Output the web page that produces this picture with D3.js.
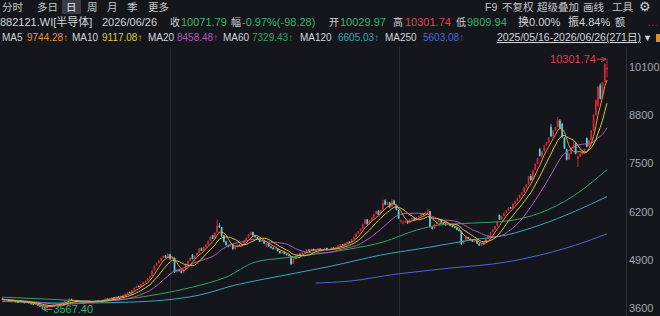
<!DOCTYPE html>
<meta charset="utf-8">
<head>
<script src="https://d3js.org/d3.v7.min.js"></script>
<style>
  body { margin: 0; background: #14161c; }
  svg text { font-family: "Liberation Sans", "Noto Sans CJK SC", sans-serif; }
</style>
</head>
<body>
<svg id="chart"></svg>
<script>
// daily candles 2025/05/16 - 2026/06/26 (271 days)
var opens = [
  3830,3850,3812,3838,3805,3788,3815,3772,3755,3784,
  3760,3745,3770,3732,3712,3690,3715,3670,3648,3625,
  3620,3648,3675,3662,3700,3720,3708,3745,3770,3792,
  3815,3850,3818,3796,3772,3792,3760,3750,3774,3798,
  3778,3770,3795,3812,3784,3808,3835,3860,3842,3875,
  3898,3882,3915,3906,3940,3965,3994,4035,4015,4090,
  4155,4200,4175,4245,4302,4340,4408,4475,4620,4750,
  4820,4885,4960,5015,4972,5050,4925,4960,4575,4640,
  4610,4565,4655,4795,4875,5040,4930,5015,5090,5210,
  5155,5255,5318,5410,5560,5480,5640,5830,5780,5560,
  5395,5300,5270,5330,5195,5255,5305,5288,5335,5425,
  5500,5585,5650,5562,5520,5468,5398,5418,5280,5350,
  5262,5228,5190,5212,5138,5082,5122,5062,5030,5005,
  4800,4925,5012,5068,5042,5100,5132,5178,5162,5198,
  5150,5182,5208,5152,5175,5222,5168,5192,5235,5212,
  5250,5288,5325,5300,5358,5392,5375,5458,5525,5615,
  5672,5745,5870,5990,5862,5960,6045,6135,6225,6125,
  6260,6500,6385,6440,6330,6500,6380,6230,5930,5880,
  5910,5948,5895,5990,6022,5980,6055,6085,6138,6112,
  6175,6210,5785,5745,5865,5928,5975,5912,5882,5838,
  5862,5822,5792,5762,5712,5675,5335,5425,5512,5472,
  5442,5398,5422,5342,5288,5308,5385,5475,5565,5655,
  5725,5815,6110,5990,6085,6165,6235,6315,6295,6415,
  6485,6565,6655,6725,6855,6935,7160,7055,7325,7485,
  7880,7690,7825,7985,8065,8480,8235,8395,8475,8650,
  8560,8195,7880,7605,7755,7905,8030,7620,7685,7755,
  7805,8180,7955,8125,8385,8805,9050,9600,9250,9690,10029.97
];
var highs = [
  3868,3858,3846,3842,3815,3825,3820,3785,3792,3790,
  3770,3781,3775,3740,3720,3726,3718,3680,3655,3640,
  3655,3680,3684,3705,3730,3728,3750,3776,3798,3820,
  3872,3858,3826,3802,3798,3795,3768,3778,3802,3805,
  3784,3798,3818,3815,3812,3840,3866,3864,3880,3902,
  3905,3920,3922,3945,3972,3998,4042,4048,4095,4165,
  4210,4215,4252,4310,4350,4415,4480,4625,4760,4830,
  4895,4968,5030,5040,5080,5065,4990,4972,4660,4652,
  4620,4660,4805,4885,4972,5060,5022,5098,5225,5232,
  5268,5325,5420,5535,5575,5648,5990,5890,5790,5575,
  5420,5320,5350,5340,5262,5315,5318,5345,5432,5510,
  5598,5670,5662,5580,5530,5480,5440,5425,5360,5358,
  5275,5240,5225,5218,5145,5132,5128,5070,5048,5012,
  4935,5022,5080,5075,5110,5142,5188,5190,5208,5205,
  5192,5218,5212,5182,5232,5228,5200,5245,5240,5260,
  5298,5335,5330,5368,5402,5398,5468,5532,5622,5680,
  5752,5878,5998,6005,5968,6052,6145,6228,6240,6252,
  6520,6530,6470,6460,6545,6520,6395,6245,5990,5970,
  5975,5955,5998,6035,6030,6062,6095,6150,6145,6195,
  6285,6220,5798,5875,5938,5995,5985,5920,5890,5872,
  5870,5830,5800,5772,5725,5682,5432,5522,5520,5480,
  5450,5432,5430,5350,5318,5390,5480,5570,5662,5730,
  5822,5952,6125,6092,6172,6242,6322,6325,6422,6492,
  6572,6662,6732,6862,6945,7165,7210,7335,7495,7655,
  7920,7835,7995,8075,8205,8560,8400,8485,8750,8690,
  8600,8210,7895,7800,7935,8120,8060,7710,7780,7830,
  7900,8200,8140,8395,8820,9220,9580,9650,9700,10190,10301.74
];
var lows = [
  3815,3805,3800,3792,3776,3780,3765,3748,3750,3756,
  3738,3740,3728,3700,3682,3685,3668,3640,3567.4,3598,
  3610,3640,3650,3658,3692,3698,3702,3738,3762,3785,
  3808,3815,3790,3768,3766,3755,3738,3745,3768,3772,
  3758,3765,3788,3778,3780,3802,3828,3832,3838,3868,
  3872,3878,3895,3900,3932,3958,3988,4002,4010,4082,
  4145,4160,4168,4238,4290,4330,4395,4470,4612,4735,
  4800,4870,4945,4950,4965,4905,4910,4550,4560,4590,
  4540,4552,4650,4782,4866,4915,4920,5005,5082,5140,
  5148,5245,5310,5400,5460,5472,5630,5760,5520,5370,
  5290,5240,5260,5175,5180,5242,5270,5280,5325,5418,
  5490,5575,5545,5500,5455,5380,5385,5325,5250,5248,
  5215,5180,5182,5128,5070,5075,5050,5018,4995,4760,
  4788,4915,5000,5025,5035,5090,5125,5148,5155,5138,
  5142,5175,5140,5145,5168,5158,5160,5185,5200,5205,
  5242,5280,5285,5295,5350,5360,5368,5450,5518,5605,
  5665,5738,5862,5848,5855,5950,6035,6125,6110,6118,
  6250,6370,6375,6300,6322,6390,6230,6000,5890,5860,
  5900,5868,5885,5978,5960,5970,6040,6075,6095,6105,
  6165,5770,5720,5738,5855,5918,5900,5868,5822,5830,
  5808,5778,5748,5698,5670,5310,5325,5418,5458,5430,
  5385,5390,5330,5275,5280,5300,5378,5468,5558,5648,
  5715,5808,5975,5982,6075,6155,6228,6275,6288,6405,
  6478,6555,6645,6718,6845,6925,7030,7048,7315,7475,
  7680,7640,7815,7970,8055,8200,8180,8380,8465,8420,
  8185,7880,7580,7590,7745,7895,7740,7400,7670,7720,
  7790,7930,7945,8115,8375,8795,9030,9220,9240,9680,9809.94
];
var closes = [
  3852,3818,3835,3801,3790,3812,3776,3759,3781,3765,
  3748,3772,3736,3710,3694,3718,3675,3652,3630,3618,
  3645,3672,3660,3698,3721,3705,3742,3768,3790,3812,
  3846,3821,3798,3775,3790,3762,3748,3771,3795,3780,
  3768,3792,3810,3786,3805,3832,3858,3840,3872,3895,
  3880,3912,3905,3938,3962,3990,4030,4012,4085,4150,
  4195,4172,4240,4298,4335,4402,4468,4610,4745,4812,
  4880,4952,5010,4968,5060,4920,4975,4570,4630,4605,
  4560,4648,4790,4870,4958,4925,5010,5085,5205,5150,
  5250,5312,5405,5520,5475,5630,5820,5785,5540,5390,
  5310,5268,5335,5190,5250,5302,5285,5330,5420,5495,
  5580,5640,5560,5515,5470,5395,5420,5340,5345,5260,
  5230,5195,5210,5140,5085,5120,5060,5035,5010,4790,
  4920,5010,5065,5040,5098,5130,5175,5160,5195,5148,
  5180,5205,5150,5172,5220,5165,5190,5232,5210,5248,
  5285,5322,5298,5355,5390,5372,5455,5520,5610,5668,
  5740,5865,5985,5860,5955,6040,6130,6215,6120,6240,
  6420,6390,6450,6320,6480,6400,6250,6020,5960,5905,
  5950,5890,5985,6020,5975,6050,6080,6135,6110,6170,
  6230,5790,5740,5860,5925,5980,5910,5880,5835,5860,
  5820,5790,5760,5710,5680,5330,5420,5510,5470,5440,
  5395,5420,5340,5290,5305,5380,5470,5560,5650,5720,
  5810,5940,5985,6080,6160,6230,6310,6290,6410,6480,
  6560,6650,6720,6850,6930,7150,7050,7320,7480,7640,
  7700,7820,7980,8060,8190,8230,8390,8470,8660,8430,
  8200,7900,7600,7750,7900,7980,7760,7680,7750,7800,
  7878.8,7950,8120,8380,8800,9199.4,9560,9240,9679.55,10170.07,10071.79
];

// long averages at a few candles (earlier history not shown)
var ma60Idx  = [0,20,40,55,70,85,100,113,125,140,155,170,185,195,210,225,240,255,270];
var ma60Val  = [3900,3847,3793,3847,3981,4170,4439,4843,4950,5058,5192,5381,5704,5839,5893,5947,6162,6620,7329.43];
var ma120Idx = [0,30,57,88,104,117,147,169,191,209,225,240,256,270];
var ma120Val = [3790,3739,3766,3954,4224,4385,4735,5031,5246,5435,5570,5839,6216,6605.03];
var ma250Idx = [140,155,176,200,225,240,256,270];
var ma250Val = [4278,4331,4520,4681,4843,5031,5300,5603.08];

var yTicks = [3600,4900,6200,7500,8800,10100];
var dividerIdx = [75,177];

var tabs = ["分时","多日","日","周","月","季","更多"];
var tools = ["F9","不复权","超级叠加","画线","工具","⚙"];
var quote = {code:"882121.WI[半导体]", date:"2026/06/26", close:"10071.79", chg:"-0.97%(-98.28)",
             open:"10029.97", high:"10301.74", low:"9809.94", turn:"0.00%", amp:"4.84%"};
var rangeText = "2025/05/16-2026/06/26(271日)";

var W = 660, H = 316;
var UP = "#d42a31", DOWN = "#57d3e0", TXT = "#d2d4d8", GRN = "#35b46a", RED = "#e0404a";
var maColors = {5:"#e8953a", 10:"#dcc83c", 20:"#b257bb", 60:"#33a25e", 120:"#36a9b8", 250:"#4a68d8"};

var svg = d3.select("#chart").attr("width", W).attr("height", H);
svg.append("rect").attr("width", W).attr("height", H).attr("fill", "#14161c");

var x = d3.scaleLinear().domain([0, closes.length - 1]).range([2, 607]);
var y = d3.scaleLinear().domain([3600, 10100]).range([308.3, 66.7]);

// faint vertical separators
svg.selectAll("line.div").data(dividerIdx).join("line")
  .attr("x1", d => Math.round(x(d)) + 0.5).attr("x2", d => Math.round(x(d)) + 0.5)
  .attr("y1", 47).attr("y2", H)
  .attr("stroke", "#272a33").attr("stroke-width", 1);

// right axis
svg.append("line").attr("x1", 626.5).attr("x2", 626.5).attr("y1", 47).attr("y2", H)
  .attr("stroke", "#2b2e37");
var axis = svg.append("g").attr("transform", "translate(626,0)")
  .call(d3.axisRight(y).tickValues(yTicks).tickFormat(d3.format("d")).tickSize(0).tickPadding(3));
axis.select(".domain").remove();
axis.selectAll("text").attr("fill", "#a3a6ad").style("font-size", "11px")
  .style("font-family", '"Liberation Sans", sans-serif');

// candles
var idx = d3.range(closes.length);
var bw = 1.7;
var col = i => closes[i] >= opens[i] ? UP : DOWN;
var cg = svg.append("g");
cg.selectAll("line").data(idx).join("line")
  .attr("x1", i => x(i)).attr("x2", i => x(i))
  .attr("y1", i => y(highs[i])).attr("y2", i => y(lows[i]))
  .attr("stroke", col).attr("stroke-width", 0.9);
cg.selectAll("rect").data(idx).join("rect")
  .attr("x", i => x(i) - bw / 2).attr("width", bw)
  .attr("y", i => y(Math.max(opens[i], closes[i])))
  .attr("height", i => Math.max(0.8, Math.abs(y(opens[i]) - y(closes[i]))))
  .attr("fill", col);

// moving averages
function movAvg(n) {
  return closes.map((c, i) => d3.mean(closes.slice(Math.max(0, i - n + 1), i + 1)));
}
var ma5 = movAvg(5), ma10 = movAvg(10), ma20 = movAvg(20);
var lineIdx = d3.line().x((d, i) => x(i)).y(d => y(d));
var linePts = d3.line().x(d => x(d[0])).y(d => y(d[1])).curve(d3.curveMonotoneX);

[[ma250Idx, ma250Val, 250], [ma120Idx, ma120Val, 120], [ma60Idx, ma60Val, 60]].forEach(function(s) {
  svg.append("path").datum(d3.zip(s[0], s[1])).attr("d", linePts)
    .attr("fill", "none").attr("stroke", maColors[s[2]]).attr("stroke-width", 1);
});
[[ma20, 20], [ma10, 10], [ma5, 5]].forEach(function(s) {
  svg.append("path").datum(s[0]).attr("d", lineIdx)
    .attr("fill", "none").attr("stroke", maColors[s[1]]).attr("stroke-width", 1);
});

// max / min markers
var hiI = d3.maxIndex(highs), loI = d3.minIndex(lows);
svg.append("defs").html(
  '<marker id="ah" viewBox="0 0 6 6" refX="6" refY="3" markerWidth="5" markerHeight="5" orient="auto">' +
  '<path d="M0,0L6,3L0,6" fill="none" stroke="#e0404a" stroke-width="1"/></marker>' +
  '<marker id="al" viewBox="0 0 6 6" refX="6" refY="3" markerWidth="5" markerHeight="5" orient="auto">' +
  '<path d="M0,0L6,3L0,6" fill="none" stroke="#35b46a" stroke-width="1"/></marker>');
var hx = x(hiI), hy = y(highs[hiI]);
svg.append("line").attr("x1", hx - 10).attr("x2", hx - 1).attr("y1", hy).attr("y2", hy)
  .attr("stroke", RED).attr("marker-end", "url(#ah)");
svg.append("text").attr("x", hx - 11).attr("y", hy).attr("dy", "0.35em")
  .attr("text-anchor", "end").attr("fill", RED).style("font-size", "11px")
  .text(d3.format(".2f")(highs[hiI]));
var lx = x(loI), ly = y(lows[loI]);
svg.append("line").attr("x1", lx + 10).attr("x2", lx + 1).attr("y1", ly).attr("y2", ly)
  .attr("stroke", GRN).attr("marker-end", "url(#al)");
svg.append("text").attr("x", lx + 11).attr("y", ly).attr("dy", "0.35em")
  .attr("fill", GRN).style("font-size", "11px")
  .text(d3.format(".2f")(lows[loI]));

// header background
svg.append("rect").attr("width", W).attr("height", 46).attr("fill", "#14161c");

// row 1: period tabs and tools
var tabX = [2, 37, 66, 87, 107, 127, 148];
svg.append("rect").attr("x", 62).attr("y", 0).attr("width", 19).attr("height", 14).attr("fill", "#3a3d48");
svg.selectAll("text.tab").data(tabs).join("text").attr("class", "tab")
  .attr("x", (d, i) => tabX[i]).attr("y", 10.5)
  .attr("fill", (d, i) => i === 2 ? "#e8e8ea" : "#c4c6ca").style("font-size", "10.5px").text(d => d);
var toolX = [485, 502, 537, 583, 612, 639];
svg.selectAll("text.tool").data(tools).join("text").attr("class", "tool")
  .attr("x", (d, i) => toolX[i]).attr("y", 10.5)
  .attr("fill", "#c4c6ca").style("font-size", (d, i) => i === 5 ? "13px" : "10.5px").text(d => d);

// row 2: quote line
var row2 = [
  [0, quote.code, TXT, 11], [102, quote.date, TXT, 11], [170, "收", TXT, 10], [181, quote.close, GRN, 11],
  [231, "幅", TXT, 10], [242, quote.chg, GRN, 11], [329, "开", TXT, 10], [340, quote.open, GRN, 11],
  [393, "高", TXT, 10], [405, quote.high, RED, 11], [456, "低", TXT, 10], [467, quote.low, GRN, 11],
  [518, "换" + quote.turn, TXT, 11], [568, "振" + quote.amp, TXT, 11], [615, "额", TXT, 10], [647, "…", "#c0302a", 11]
];
svg.selectAll("text.r2").data(row2).join("text").attr("class", "r2")
  .attr("x", d => d[0]).attr("y", 26).attr("fill", d => d[2]).style("font-size", d => d[3] + "px").text(d => d[1]);

// row 3: MA legend and date range
var fmt = d3.format(".2f");
var legend = [
  ["MA5", 2, 27, ma5[ma5.length - 1], 5], ["MA10", 72, 102, ma10[ma10.length - 1], 10],
  ["MA20", 148, 177, ma20[ma20.length - 1], 20], ["MA60", 223, 252, ma60Val[ma60Val.length - 1], 60],
  ["MA120", 300, 338, ma120Val[ma120Val.length - 1], 120], ["MA250", 385, 423, ma250Val[ma250Val.length - 1], 250]
];
legend.forEach(function(d) {
  svg.append("text").attr("x", d[1]).attr("y", 41).attr("fill", TXT).style("font-size", "10px").text(d[0]);
  svg.append("text").attr("x", d[2]).attr("y", 41).attr("fill", maColors[d[4]]).style("font-size", "10px")
    .text(fmt(d[3]) + "↑");
});
svg.append("text").attr("x", 497).attr("y", 41).attr("fill", TXT).style("font-size", "10.5px")
  .attr("textLength", 144).attr("lengthAdjust", "spacingAndGlyphs")
  .attr("text-decoration", "underline").text(rangeText);
svg.append("text").attr("x", 643).attr("y", 41).attr("fill", TXT).style("font-size", "9px").text("▼");
svg.append("rect").attr("x", 656).attr("y", 34).attr("width", 4).attr("height", 8).attr("fill", "#d8902a");
</script>
</body>
</html>
